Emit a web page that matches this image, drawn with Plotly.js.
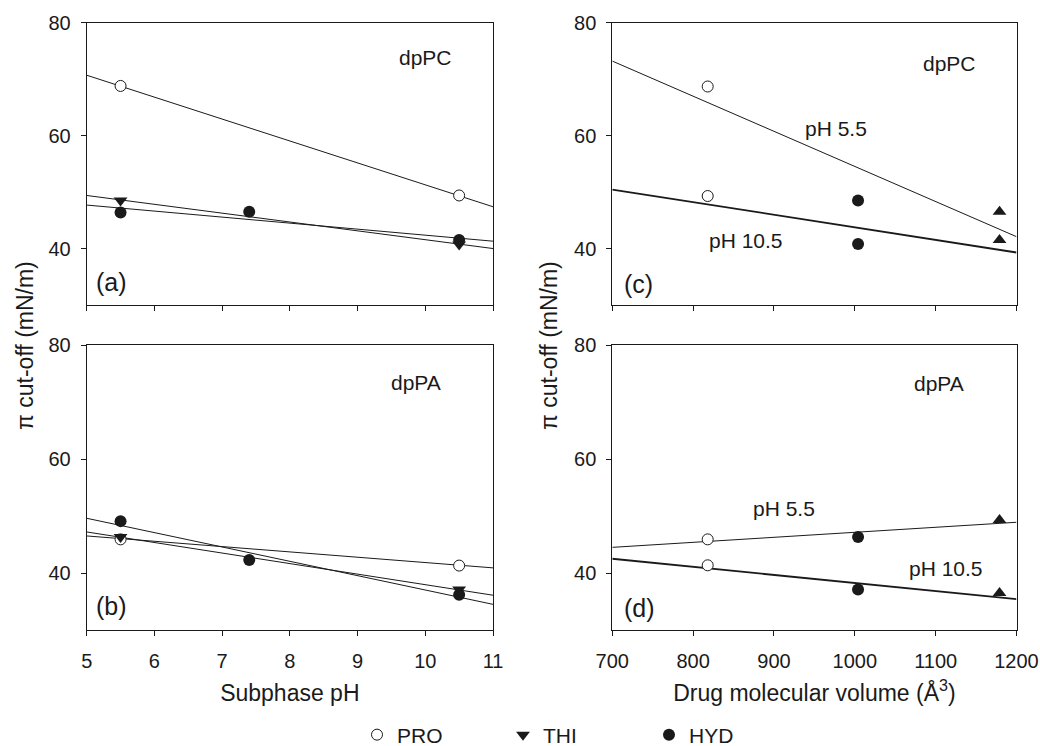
<!DOCTYPE html>
<html><head><meta charset="utf-8">
<script src="https://cdn.plot.ly/plotly-3.0.1.min.js"></script>
<style>html,body{margin:0;padding:0;background:#fff}#chart{width:1040px;height:746px}</style>
</head><body><div id="chart"></div>
<script>
// ---------- Panels (a),(b): x = subphase pH ----------
const phX = [5.5, 10.5];
const hydPhX = [5.5, 7.4, 10.5];
const fitPhX = [5, 11];
// (a) dpPC
const a_PRO = [68.8, 49.4];
const a_THI = [48.5, 40.7];
const a_HYD = [46.4, 46.5, 41.5];
const a_fitPRO = [70.7, 47.4];
const a_fitTHI = [49.4, 40.0];
const a_fitHYD = [47.7, 41.3];
// (b) dpPA
const b_PRO = [45.9, 41.3];
const b_THI = [46.3, 37.1];
const b_HYD = [49.1, 42.3, 36.2];
const b_fitPRO = [46.5, 40.9];
const b_fitTHI = [47.2, 36.1];
const b_fitHYD = [49.6, 34.5];
// ---------- Panels (c),(d): x = drug molecular volume ----------
const volPRO = [818, 818];
const volHYD = [1004, 1004];
const volTHI = [1179, 1179];
const fitVolX = [700, 1200];
// values ordered [pH 5.5, pH 10.5]
const c_PRO = [68.7, 49.3];
const c_HYD = [48.5, 40.8];
const c_THI = [46.5, 41.5];
const c_fit55 = [73.2, 42.1];
const c_fit105 = [50.45, 39.3];
const d_PRO = [45.9, 41.35];
const d_HYD = [46.3, 37.1];
const d_THI = [49.3, 36.5];
const d_fit55 = [44.5, 48.9];
const d_fit105 = [42.5, 35.4];
// ---------- labels ----------
const legendNames = ['PRO', 'THI', 'HYD'];
const panelLetters = ['(a)', '(b)', '(c)', '(d)'];
const lipidNames = ['dpPC', 'dpPA', 'dpPC', 'dpPA'];
const phLabels = ['pH 5.5', 'pH 10.5'];
const yTitle = 'π cut-off (mN/m)';
const xTitleLeft = 'Subphase pH';
const xTitleRight = 'Drug molecular volume (Å<sup>3</sup>)';

const FONT = 'Liberation Sans, Arial, Helvetica, sans-serif';
const INK = '#1a1a1a';

const mPRO = {symbol: 'circle', size: 11, color: '#ffffff', line: {color: INK, width: 1}};
const mTHI = {symbol: 'triangle-down', size: 12, color: INK, line: {width: 0}};
const mTHIup = {symbol: 'triangle-up', size: 12, color: INK, line: {width: 0}};
const mHYD = {symbol: 'circle', size: 12, color: INK, line: {width: 0}};

function fit(x, y, xa, ya, w) {
  return {x: x, y: y, xaxis: xa, yaxis: ya, mode: 'lines', line: {color: INK, width: w || 1}, showlegend: false, hoverinfo: 'skip'};
}
function pts(x, y, xa, ya, m, name, show) {
  return {x: x, y: y, xaxis: xa, yaxis: ya, mode: 'markers', marker: m, name: name, showlegend: !!show, legendgroup: name};
}

const data = [
  // (a)
  fit(fitPhX, a_fitPRO, 'x', 'y'), fit(fitPhX, a_fitTHI, 'x', 'y'), fit(fitPhX, a_fitHYD, 'x', 'y'),
  pts(phX, a_PRO, 'x', 'y', mPRO, legendNames[0], true),
  pts(phX, a_THI, 'x', 'y', mTHI, legendNames[1], true),
  pts(hydPhX, a_HYD, 'x', 'y', mHYD, legendNames[2], true),
  // (b)
  fit(fitPhX, b_fitPRO, 'x2', 'y2'), fit(fitPhX, b_fitTHI, 'x2', 'y2'), fit(fitPhX, b_fitHYD, 'x2', 'y2'),
  pts(phX, b_PRO, 'x2', 'y2', mPRO, legendNames[0]),
  pts(phX, b_THI, 'x2', 'y2', mTHI, legendNames[1]),
  pts(hydPhX, b_HYD, 'x2', 'y2', mHYD, legendNames[2]),
  // (c)
  fit(fitVolX, c_fit55, 'x3', 'y3', 1), fit(fitVolX, c_fit105, 'x3', 'y3', 1.8),
  pts(volPRO, c_PRO, 'x3', 'y3', mPRO, legendNames[0]),
  pts(volHYD, c_HYD, 'x3', 'y3', mHYD, legendNames[2]),
  pts(volTHI, c_THI, 'x3', 'y3', mTHIup, legendNames[1]),
  // (d)
  fit(fitVolX, d_fit55, 'x4', 'y4', 1), fit(fitVolX, d_fit105, 'x4', 'y4', 1.8),
  pts(volPRO, d_PRO, 'x4', 'y4', mPRO, legendNames[0]),
  pts(volHYD, d_HYD, 'x4', 'y4', mHYD, legendNames[2]),
  pts(volTHI, d_THI, 'x4', 'y4', mTHIup, legendNames[1])
];

const W = 1040, H = 746;
const xdL = [86.7 / W, 493 / W], xdR = [612.3 / W, 1016.5 / W];
const ydT = [1 - 305 / H, 1 - 22.7 / H], ydB = [1 - 630 / H, 1 - 345 / H];

function xax(dom, range, dtick, anchor, labels, title) {
  const a = {domain: dom, range: range, dtick: dtick, tick0: 0, anchor: anchor,
    showline: true, mirror: true, linecolor: INK, linewidth: 1, ticks: 'outside', ticklen: 5, tickcolor: INK,
    showgrid: false, zeroline: false, showticklabels: labels, ticklabelstandoff: 8,
    tickfont: {family: FONT, size: 20, color: INK}};
  if (title) a.title = {text: title, font: {family: FONT, size: 23, color: INK}, standoff: 13};
  return a;
}
function yax(dom, anchor) {
  return {domain: dom, range: [30, 80], dtick: 20, tick0: 0, anchor: anchor,
    showline: true, mirror: true, linecolor: INK, linewidth: 1, ticks: 'outside', ticklen: 5, tickcolor: INK,
    showgrid: false, zeroline: false, ticklabelstandoff: 6,
    tickfont: {family: FONT, size: 20, color: INK}};
}

function ann(xref, yref, x, y, text, size) {
  return {xref: xref, yref: yref, x: x, y: y, text: text, showarrow: false, xanchor: 'center', yanchor: 'middle',
    font: {family: FONT, size: size || 21, color: INK}};
}

const annotations = [
  ann('x', 'y', 10.0, 73.8, lipidNames[0]), ann('x', 'y', 5.37, 34.0, panelLetters[0], 25),
  ann('x2', 'y2', 9.87, 73.4, lipidNames[1]), ann('x2', 'y2', 5.37, 34.2, panelLetters[1], 25),
  ann('x3', 'y3', 1117, 72.8, lipidNames[2]), ann('x3', 'y3', 733, 33.8, panelLetters[2], 25),
  ann('x3', 'y3', 977, 61.25, phLabels[0]), ann('x3', 'y3', 866, 41.5, phLabels[1]),
  ann('x4', 'y4', 1104, 73.3, lipidNames[3]), ann('x4', 'y4', 734, 33.8, panelLetters[3], 25),
  ann('x4', 'y4', 912, 51.4, phLabels[0]), ann('x4', 'y4', 1113, 40.8, phLabels[1]),
  {xref: 'paper', yref: 'paper', x: 25 / W, y: 1 - 346 / H, text: yTitle, textangle: -90, showarrow: false,
   xanchor: 'center', yanchor: 'middle', font: {family: FONT, size: 23, color: INK}},
  {xref: 'paper', yref: 'paper', x: 549 / W, y: 1 - 346 / H, text: yTitle, textangle: -90, showarrow: false,
   xanchor: 'center', yanchor: 'middle', font: {family: FONT, size: 23, color: INK}}
];

const layout = {
  width: W, height: H, margin: {l: 0, r: 0, t: 0, b: 0, autoexpand: false},
  paper_bgcolor: '#ffffff', plot_bgcolor: '#ffffff',
  font: {family: FONT, size: 20, color: INK},
  xaxis: xax(xdL, [5, 11], 1, 'y', false),
  yaxis: yax(ydT, 'x'),
  xaxis2: xax(xdL, [5, 11], 1, 'y2', true, xTitleLeft),
  yaxis2: yax(ydB, 'x2'),
  xaxis3: xax(xdR, [700, 1200], 100, 'y3', false),
  yaxis3: yax(ydT, 'x3'),
  xaxis4: xax(xdR, [700, 1200], 100, 'y4', true, xTitleRight),
  yaxis4: yax(ydB, 'x4'),
  annotations: annotations,
  showlegend: true,
  legend: {orientation: 'h', x: 357 / W, xanchor: 'left', y: 1 - 735 / H, yanchor: 'middle',
    entrywidth: 101, font: {family: FONT, size: 21, color: INK}, bgcolor: 'rgba(0,0,0,0)', traceorder: 'normal'}
};

Plotly.newPlot('chart', data, layout, {staticPlot: true, displayModeBar: false});
</script>
</body></html>
